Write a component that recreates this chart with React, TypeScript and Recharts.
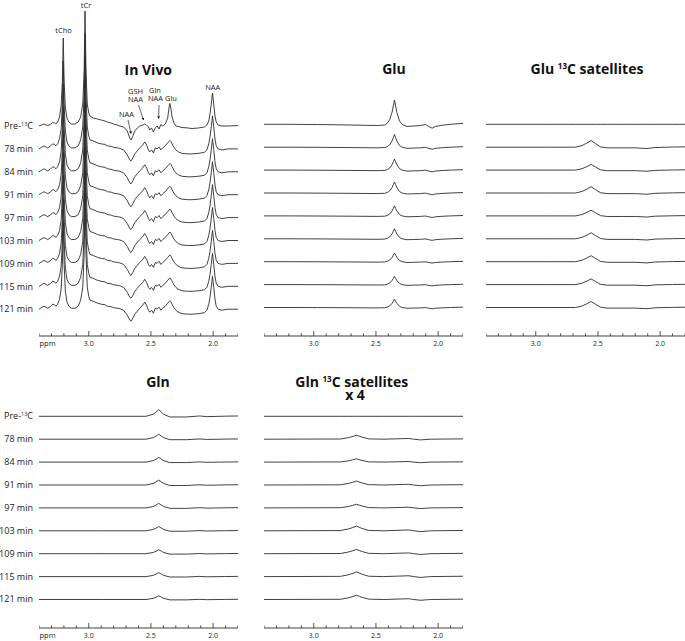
import { Line, LineChart, XAxis, YAxis } from "recharts";

// ---- data (intensities in arbitrary units) ----

const rowLabels = ["Pre-13C", "78 min", "84 min", "91 min", "97 min", "103 min", "109 min", "115 min", "121 min"];

const axisTicks = [3.4, 3.3, 3.2, 3.1, 3.0, 2.9, 2.8, 2.7, 2.6, 2.5, 2.4, 2.3, 2.2, 2.1, 2.0, 1.9, 1.8];
const tickLabels = [
  { value: 3.0, text: "3.0" },
  { value: 2.5, text: "2.5" },
  { value: 2.0, text: "2.0" },
];

// In vivo spectra
const inVivoPpm = [
  3.4, 3.38, 3.36, 3.345, 3.33, 3.31, 3.29, 3.275, 3.265, 3.25, 3.235, 3.222, 3.212, 3.205, 3.198, 3.188,
  3.175, 3.16, 3.14, 3.11, 3.085, 3.065, 3.048, 3.037, 3.03, 3.022, 3.012, 3.0, 2.99, 2.965, 2.93, 2.9,
  2.87, 2.85, 2.82, 2.8, 2.77, 2.75, 2.72, 2.69, 2.67, 2.66, 2.645, 2.63, 2.61, 2.59, 2.565, 2.55,
  2.535, 2.52, 2.51, 2.495, 2.48, 2.465, 2.45, 2.435, 2.42, 2.405, 2.385, 2.365, 2.355, 2.348, 2.34, 2.33,
  2.315, 2.3, 2.28, 2.25, 2.2, 2.17, 2.12, 2.07, 2.05, 2.035, 2.025, 2.015, 2.005, 1.995, 1.985, 1.975,
  1.96, 1.93, 1.88, 1.8,
];
const inVivoPre = [
  0, 1, 2, 1, 0.5, 1.5, 3.5, 3, 2, 4, 9, 20, 45, 88, 45, 18,
  8, 4, 2, 2, 4, 9, 22, 55, 115, 55, 22, 13, 10, 8, 7, 6,
  5, 4, 3, 2, 1, 0, -1, -5, -12, -14, -10, -5, -2, 0, 1, 2,
  1, -1, -4, -2, -6, -2, 0, -3, 1.5, 0, 2, 8, 18, 22.5, 18, 9,
  3, 0, -0.5, -1.5, -2, -2.5, -2, -1, 1, 5, 12, 22, 33, 22, 10, 4,
  1, 0, 0, 0.5,
];
const inVivoPost = [
  0, 1.5, 3, 2, 1, 2.5, 5, 4.5, 3, 5, 10, 20, 45, 88, 45, 18,
  7, 3, 1, 1, 3, 9, 22, 55, 115, 55, 22, 13, 9, 8, 6, 5,
  4.5, 3, 2.5, 1.5, 1, 0.5, -1, -6, -11, -12, -9, -5, -2, 1, 4, 7,
  4, -1, -3, -1, -4, 1, 0, 2, -1, 1, 3, 6, 7.5, 8.5, 7.5, 5,
  1.5, -1, -3, -4.5, -5, -5, -4.5, -3.5, -1, 5, 12, 22, 33, 22, 10, 3,
  0, -1, 0, 0,
];

// Glu
const gluPpm = [3.4, 3.2, 2.97, 2.7, 2.49, 2.43, 2.41, 2.39, 2.37, 2.36, 2.351, 2.342, 2.331, 2.311, 2.29, 2.25, 2.196, 2.142, 2.102, 2.075, 2.048, 2.022, 1.968, 1.9, 1.8];
const gluShape = [0, 0, -0.01, -0.03, -0.05, -0.03, 0.04, 0.18, 0.5, 0.76, 1.0, 0.76, 0.48, 0.14, 0.0, -0.09, -0.07, -0.05, -0.01, -0.09, -0.16, -0.09, -0.04, 0, 0.04];
const gluHeights = [24.3, 12.7, 11, 11, 10, 10, 8.7, 8.3, 8.3];

// Glu 13C satellites
const gluSatPpm = [3.4, 2.9, 2.68, 2.627, 2.587, 2.555, 2.52, 2.48, 2.426, 2.3, 2.2, 2.106, 2.04, 1.9, 1.8];
const gluSatShape = [0, 0, 0, 0.25, 0.64, 1.0, 0.55, 0.05, -0.1, -0.1, -0.1, -0.2, -0.05, 0.02, 0.05];
const gluSatHeights = [0, 6.7, 5.7, 6.3, 5.7, 6, 6, 5.7, 6];

// Gln
const glnPpm = [3.4, 2.9, 2.54, 2.483, 2.46, 2.437, 2.415, 2.397, 2.348, 2.214, 2.107, 2.053, 1.9, 1.8];
const glnShape = [0, 0, 0, 0.3, 0.6, 1.0, 0.6, 0.3, -0.1, -0.1, 0.05, -0.05, 0.02, 0.05];
const glnHeights = [6.7, 5, 4.7, 5, 4.5, 4.3, 4, 4, 3.7];

// Gln 13C satellites (x 4)
const glnSatPpm = [3.4, 2.785, 2.719, 2.685, 2.657, 2.635, 2.611, 2.558, 2.437, 2.236, 2.196, 2.142, 2.062, 1.8];
const glnSatShape = [0, 0.05, 0.4, 0.7, 1.0, 0.75, 0.5, 0.08, 0, 0.18, 0, -0.18, 0, 0.08];
const glnSatHeights = [0, 4, 3.3, 4, 3.7, 4.7, 4.3, 4.7, 4.3];

// ---- layout ----

const W = 685;
const H = 641;
const PLOT_W = 199;
const PLOT_H = 336;
const AXIS_H = 16;
const ROW_GAP = 22.9;
const BOTTOM_TOP = 291.7;
const INK = "#2b2b2b";
const FONT = "'Open Sans', 'DejaVu Sans', sans-serif";

type Pt = { ppm: number; v: number };

const stack = (ppm: number[], rows: number[][], firstBase: number, chartTop: number): Pt[][] =>
  rows.map((vals, i) => {
    const base = chartTop + PLOT_H - (firstBase + ROW_GAP * i);
    return ppm.map((p, k) => ({ ppm: p, v: base + vals[k] }));
  });

const scaled = (shape: number[], heights: number[]) => heights.map((h) => shape.map((s) => s * h));

const inVivoRows = rowLabels.map((_, i) => (i === 0 ? inVivoPre : inVivoPost));

const AxisTick = (props: any) => {
  const { x, y, payload, showPpm } = props;
  const v = payload.value;
  const major = tickLabels.find((t) => Math.abs(t.value - v) < 1e-6);
  return (
    <g>
      <line x1={x} x2={x} y1={y} y2={y - (major ? 5 : 2.7)} stroke={INK} strokeWidth={0.8} />
      {major && (
        <text x={x} y={y + 10} textAnchor="middle" fontSize={7} fontFamily={FONT} fill="#222">
          {major.text}
        </text>
      )}
      {showPpm && Math.abs(v - 3.4) < 1e-6 && (
        <text x={x + 0.5} y={y + 10} fontSize={7.5} fontFamily={FONT} fill="#222">
          ppm
        </text>
      )}
    </g>
  );
};

const Panel = ({ left, top, series, showPpm }: { left: number; top: number; series: Pt[][]; showPpm?: boolean }) => (
  <div style={{ position: "absolute", left, top }}>
    <LineChart width={PLOT_W} height={PLOT_H + AXIS_H} margin={{ top: 0, right: 0, bottom: 0, left: 0 }}>
      <XAxis
        type="number"
        dataKey="ppm"
        domain={[1.8, 3.4]}
        reversed
        allowDataOverflow
        ticks={axisTicks}
        interval={0}
        height={AXIS_H}
        tickSize={0}
        tickMargin={0}
        tickLine={false}
        axisLine={{ stroke: INK, strokeWidth: 0.9 }}
        tick={(p: any) => <AxisTick {...p} showPpm={showPpm} />}
      />
      <YAxis type="number" hide domain={[0, PLOT_H]} allowDataOverflow />
      {series.map((d, i) => (
        <Line
          key={i}
          data={d}
          dataKey="v"
          type="linear"
          stroke={INK}
          strokeWidth={0.9}
          dot={false}
          activeDot={false}
          isAnimationActive={false}
        />
      ))}
    </LineChart>
  </div>
);

const RowLabel = ({ label, y }: { label: string; y: number }) =>
  label.startsWith("Pre-") ? (
    <text x={33} y={y + 3.2} textAnchor="end" fontSize={9} fontFamily={FONT} fill="#222">
      Pre-
      <tspan fontSize={5.5} dy={-3.5}>13</tspan>
      <tspan dy={3.5}>C</tspan>
    </text>
  ) : (
    <text x={33} y={y + 3.2} textAnchor="end" fontSize={9} fontFamily={FONT} fill="#222">
      {label}
    </text>
  );

const Title = ({ x, y, name, sat }: { x: number; y: number; name: string; sat?: boolean }) => (
  <text x={x} y={y} textAnchor="middle" fontSize={14} fontWeight="bold" fontFamily={FONT} fill="#111">
    {name}
    {sat && (
      <>
        {" "}
        <tspan fontSize={8} dy={-5}>13</tspan>
        <tspan dy={5}>C satellites</tspan>
      </>
    )}
  </text>
);

const peakNotes = [
  { text: "tCho", x: 63.5, y: 33.4 },
  { text: "tCr", x: 86, y: 7.6 },
  { text: "NAA", x: 212.7, y: 90 },
  { text: "GSH", x: 135.5, y: 94 },
  { text: "NAA", x: 135.5, y: 102.3 },
  { text: "Gln", x: 155, y: 92.5 },
  { text: "NAA", x: 155.5, y: 101 },
  { text: "Glu", x: 171, y: 101 },
  { text: "NAA", x: 126.5, y: 117 },
];

const arrows = [
  { x1: 128, y1: 120, x2: 131, y2: 133.5 },
  { x1: 138.5, y1: 105, x2: 143.5, y2: 120 },
  { x1: 159, y1: 105, x2: 158.6, y2: 118.5 },
];

export default function App() {
  const topRows = rowLabels.map((_, i) => 126 + ROW_GAP * i);
  const bottomRows = rowLabels.map((_, i) => 416 + ROW_GAP * i);

  return (
    <div style={{ position: "absolute", left: 0, top: 0, width: W, height: H, overflow: "hidden", background: "#fff" }}>
      <Panel left={39.3} top={0} series={stack(inVivoPpm, inVivoRows, 126, 0)} showPpm />
      <Panel left={263.5} top={0} series={stack(gluPpm, scaled(gluShape, gluHeights), 124.3, 0)} />
      <Panel left={485.5} top={0} series={stack(gluSatPpm, scaled(gluSatShape, gluSatHeights), 124.3, 0)} />
      <Panel left={39.3} top={BOTTOM_TOP} series={stack(glnPpm, scaled(glnShape, glnHeights), 416, BOTTOM_TOP)} showPpm />
      <Panel left={263.5} top={BOTTOM_TOP} series={stack(glnSatPpm, scaled(glnSatShape, glnSatHeights), 416, BOTTOM_TOP)} />

      <svg width={W} height={H} style={{ position: "absolute", left: 0, top: 0, pointerEvents: "none" }}>
        <defs>
          <marker id="head" viewBox="0 0 6 6" refX="5" refY="3" markerWidth="4" markerHeight="4" orient="auto">
            <path d="M0,0 L6,3 L0,6 z" fill="#222" />
          </marker>
        </defs>

        <Title x={148.3} y={74.5} name="In Vivo" />
        <Title x={394} y={74} name="Glu" />
        <Title x={587} y={74} name="Glu" sat />
        <Title x={158} y={387} name="Gln" />
        <Title x={351.7} y={386.5} name="Gln" sat />
        <text x={355} y={399.5} textAnchor="middle" fontSize={14} fontWeight="bold" fontFamily={FONT} fill="#111">
          x 4
        </text>

        {rowLabels.map((l, i) => (
          <RowLabel key={"t" + i} label={l} y={topRows[i]} />
        ))}
        {rowLabels.map((l, i) => (
          <RowLabel key={"b" + i} label={l} y={bottomRows[i]} />
        ))}

        {peakNotes.map((n, i) => (
          <text key={i} x={n.x} y={n.y} textAnchor="middle" fontSize={7.5} fontFamily={FONT} fill="#222">
            {n.text}
          </text>
        ))}
        {arrows.map((a, i) => (
          <line key={i} x1={a.x1} y1={a.y1} x2={a.x2} y2={a.y2} stroke="#222" strokeWidth={0.7} markerEnd="url(#head)" />
        ))}
      </svg>
    </div>
  );
}
